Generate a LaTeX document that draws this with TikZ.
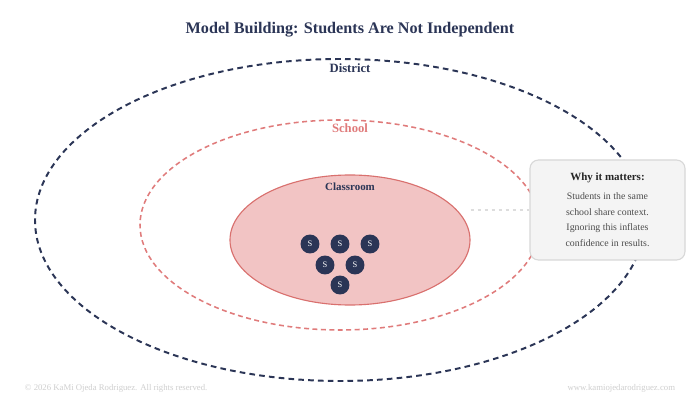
\documentclass[tikz,border=0pt]{standalone}
\usepackage{fontspec}
\setmainfont{Liberation Serif}
\usetikzlibrary{shapes.geometric,positioning,backgrounds}
\definecolor{navy}{HTML}{2B3556}
\definecolor{coral}{HTML}{E07B7B}
\definecolor{roomfill}{HTML}{F2C4C4}
\definecolor{roomline}{HTML}{D9706E}
\definecolor{boxfill}{HTML}{F4F4F4}
\definecolor{boxline}{HTML}{D8D8D8}
\definecolor{faint}{HTML}{CFCFCF}

\begin{document}
\begin{tikzpicture}[
    x=0.025cm, y=-0.025cm,
    background rectangle/.style={fill=white,draw=none},
    show background rectangle,
    level/.style={ellipse,inner sep=0pt},
    student/.style={circle,fill=navy,minimum size=13.5pt,inner sep=0pt,
        font=\fontsize{6}{6}\selectfont,text=white},
    label/.style={font=\bfseries\fontsize{9}{10}\selectfont},
    body/.style={font=\fontsize{7}{11.1}\selectfont,text=black!70,align=center},
    foot/.style={font=\fontsize{6.2}{7}\selectfont,text=faint}
]
\path[use as bounding box] (0,0) rectangle (700,400);

\node[font=\bfseries\fontsize{11.5}{13}\selectfont,text=navy] (title) at (350,30)
    {Model Building: Students Are Not Independent};

% nested levels, outermost first
\node[level,draw=navy,line width=1.4pt,dash pattern=on 4pt off 3pt,
    minimum width=610*0.025cm,minimum height=322*0.025cm]
    (district) at (340,220) {};
\node[level,draw=coral,line width=1.1pt,dash pattern=on 3.5pt off 2.5pt,
    minimum width=400*0.025cm,minimum height=210*0.025cm]
    (school) at (340,225) {};
\node[level,draw=roomline,fill=roomfill,line width=0.8pt,
    minimum width=240*0.025cm,minimum height=130*0.025cm]
    (classroom) at (350,240) {};

\node[label,text=navy] (districtlbl) at (350,68) {District};
\node[label,text=coral] (schoollbl) at (350,128) {School};
\node[label,text=navy,font=\bfseries\fontsize{7.8}{9}\selectfont] (classroomlbl) at (350,187) {Classroom};

\foreach \x/\y/\i in {310/244/1,340/244/2,370/244/3,325/265/4,355/265/5,340/285/6}
    \node[student] (s\i) at (\x,\y) {S};

% side note
\node[draw=boxline,fill=boxfill,rounded corners=6pt,line width=0.8pt,
    minimum width=155*0.025cm,minimum height=100*0.025cm] (note) at (607.5,210) {};
\node[body,font=\bfseries\fontsize{7.8}{9}\selectfont,text=black!85] (notehead) at (607.5,178) {Why it matters:};
\node[body,below=0pt of notehead] (notetext)
    {Students in the same\\school share context.\\Ignoring this inflates\\confidence in results.};
\draw[faint!70,line width=1pt,dash pattern=on 2.5pt off 2.5pt]
    (note.west -| classroom.east) -- (note.west);

\node[foot,anchor=west] (copyright) at (20,388) {\textcopyright{} 2026 KaMi Ojeda Rodriguez. All rights reserved.};
\node[foot,anchor=east] (site) at (680,388) {www.kamiojedarodriguez.com};
\end{tikzpicture}
\end{document}
